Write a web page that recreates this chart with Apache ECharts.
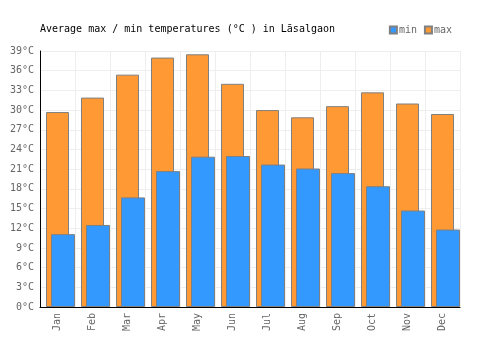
<!DOCTYPE html>
<html><head><meta charset="utf-8">
<script src="https://cdn.jsdelivr.net/npm/echarts@6/dist/echarts.min.js"></script>
<style>html,body{margin:0;padding:0;background:#fff}#c{width:500px;height:350px}</style>
</head><body><div id="c"></div>
<script>
var months = ['Jan','Feb','Mar','Apr','May','Jun','Jul','Aug','Sep','Oct','Nov','Dec'];
var minTemps = [11.1, 12.5, 16.7, 20.7, 22.9, 23.0, 21.7, 21.1, 20.4, 18.4, 14.7, 11.8];
var maxTemps = [29.7, 31.9, 35.4, 38.0, 38.5, 34.0, 30.0, 28.9, 30.6, 32.7, 31.0, 29.4];
var titleText = 'Average max / min temperatures (°C ) in Lāsalgaon';

var FONT = '"DejaVu Sans Mono", "Liberation Mono", monospace';
var chart = echarts.init(document.getElementById('c'), null, {renderer: 'canvas'});
chart.setOption({
  animation: false,
  backgroundColor: '#fff',
  title: {
    text: titleText, left: 35, top: 19,
    textStyle: {fontFamily: FONT, fontSize: 10, fontWeight: 'normal', color: '#000'}
  },
  legend: {
    right: 43, top: 20, itemWidth: 7, itemHeight: 7, itemGap: 7,
    icon: 'rect',
    textStyle: {fontFamily: FONT, fontSize: 10, color: '#666', padding: [0,0,0,-3]},
    data: ['min', 'max']
  },
  grid: [
    {left: 40, right: 40, top: 51, bottom: 43, containLabel: false},
    {left: 45.5, right: 34.5, top: 51, bottom: 43, containLabel: false}
  ],
  xAxis: [
    {type: 'category', data: months, gridIndex: 0,
     axisLine: {lineStyle: {color: '#000', width: 1}}, axisTick: {show: false},
     axisLabel: {rotate: 90, fontFamily: FONT, fontSize: 10, color: '#666', margin: 6},
     splitLine: {show: true, lineStyle: {color: '#eee'}}},
    {type: 'category', data: months, gridIndex: 1, show: false}
  ],
  yAxis: [
    {type: 'value', min: 0, max: 39, interval: 3, gridIndex: 0,
     axisLine: {show: true, lineStyle: {color: '#000', width: 1}}, axisTick: {show: false},
     axisLabel: {formatter: '{value}°C', fontFamily: FONT, fontSize: 10, color: '#666', margin: 6},
     splitLine: {show: true, lineStyle: {color: '#eee'}}},
    {type: 'value', min: 0, max: 39, interval: 3, gridIndex: 1, show: false,
     splitLine: {show: false}}
  ],
  series: [
    {name: 'max', type: 'bar', xAxisIndex: 0, yAxisIndex: 0, data: maxTemps, barWidth: 23, z: 2,
     itemStyle: {color: '#ff9933', borderColor: '#808080', borderWidth: 1}},
    {name: 'min', type: 'bar', xAxisIndex: 1, yAxisIndex: 1, data: minTemps, barWidth: 24, z: 3,
     itemStyle: {color: '#3399ff', borderColor: '#808080', borderWidth: 1}}
  ]
});
</script></body></html>
